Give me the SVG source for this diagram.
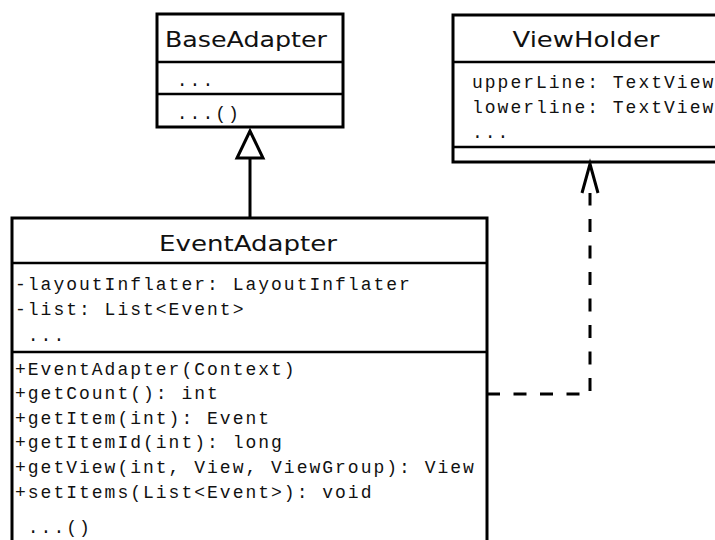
<svg xmlns="http://www.w3.org/2000/svg" width="715" height="540" viewBox="0 0 715 540">
  <style>
    .box { fill: #ffffff; stroke: #000000; stroke-width: 3; }
    .sep { stroke: #000000; stroke-width: 2.5; fill: none; }
    .title { font-family: "DejaVu Sans", "Liberation Sans", sans-serif; font-size: 22px; fill: #111111; text-anchor: middle; }
    .mono { font-family: "Courier New", "Nimbus Mono PS", "FreeMono", "Liberation Mono", monospace; font-size: 18px; letter-spacing: 2px; fill: #111111; }
    .edge { fill: none; stroke: #000000; stroke-width: 3; }
    .dep { fill: none; stroke: #000000; stroke-width: 3; stroke-dasharray: 13 13.5; }
  </style>

  <!-- BaseAdapter class -->
  <g id="base-adapter">
    <rect class="box" x="157" y="14" width="186" height="113"/>
    <line class="sep" x1="157" y1="62" x2="343" y2="62"/>
    <line class="sep" x1="157" y1="94" x2="343" y2="94"/>
    <text class="title" x="246" y="47" textLength="162" lengthAdjust="spacingAndGlyphs">BaseAdapter</text>
    <text class="mono" x="164" y="86" xml:space="preserve"> ...</text>
    <text class="mono" x="164" y="119" xml:space="preserve"> ...()</text>
  </g>

  <!-- ViewHolder class (continues past the right edge) -->
  <g id="view-holder">
    <rect class="box" x="453" y="15" width="280" height="147"/>
    <line class="sep" x1="453" y1="62" x2="733" y2="62"/>
    <line class="sep" x1="453" y1="147" x2="733" y2="147"/>
    <text class="title" x="586" y="47" textLength="147" lengthAdjust="spacingAndGlyphs">ViewHolder</text>
    <text class="mono" x="472" y="88">upperLine: TextView</text>
    <text class="mono" x="472" y="113">lowerline: TextView</text>
    <text class="mono" x="472" y="138">...</text>
  </g>

  <!-- EventAdapter class (continues past the bottom edge) -->
  <g id="event-adapter">
    <rect class="box" x="12" y="218" width="475" height="345"/>
    <line class="sep" x1="12" y1="263" x2="487" y2="263"/>
    <line class="sep" x1="12" y1="352" x2="487" y2="352"/>
    <text class="title" x="248" y="251" textLength="178" lengthAdjust="spacingAndGlyphs">EventAdapter</text>
    <text class="mono" x="15" y="290">-layoutInflater: LayoutInflater</text>
    <text class="mono" x="15" y="315">-list: List&lt;Event&gt;</text>
    <text class="mono" x="15" y="341" xml:space="preserve"> ...</text>
    <text class="mono" x="15" y="375">+EventAdapter(Context)</text>
    <text class="mono" x="15" y="399">+getCount(): int</text>
    <text class="mono" x="15" y="424">+getItem(int): Event</text>
    <text class="mono" x="15" y="448">+getItemId(int): long</text>
    <text class="mono" x="15" y="473">+getView(int, View, ViewGroup): View</text>
    <text class="mono" x="15" y="498">+setItems(List&lt;Event&gt;): void</text>
    <text class="mono" x="15" y="533" xml:space="preserve"> ...()</text>
  </g>

  <!-- Connectors -->
  <g id="connectors">
    <!-- generalization: EventAdapter extends BaseAdapter -->
    <line class="edge" x1="250" y1="158" x2="250" y2="218"/>
    <polygon class="edge" points="250,131 237,158 263,158" style="fill:#ffffff"/>
    <!-- dependency: EventAdapter uses ViewHolder -->
    <path class="dep" d="M487,394 H590 V193"/>
    <polyline class="edge" points="582,193 590,164 598,193"/>
  </g>
</svg>
